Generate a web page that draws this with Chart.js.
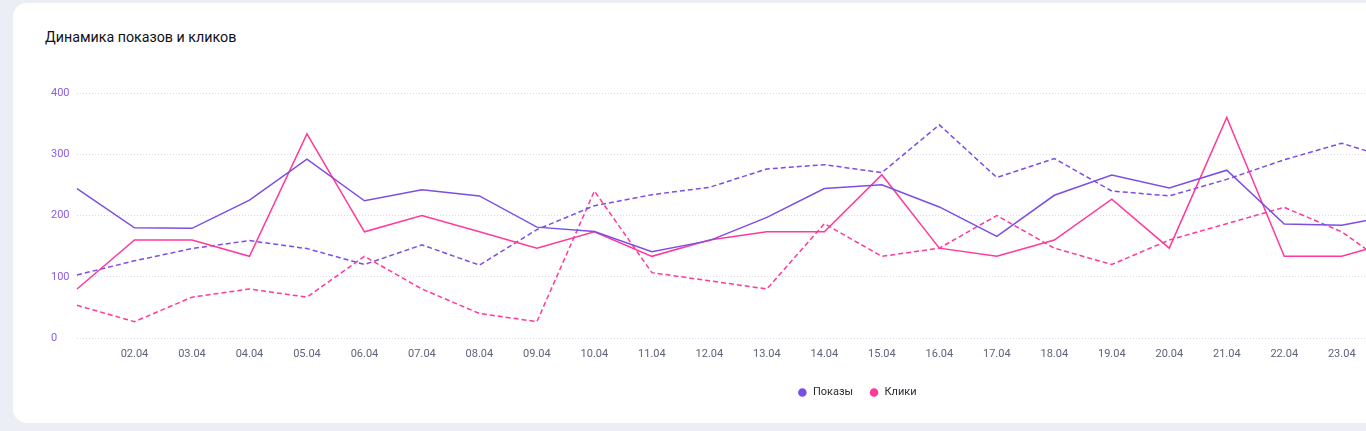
<!DOCTYPE html>
<html>
<head>
<meta charset="utf-8">
<script src="https://cdn.jsdelivr.net/npm/chart.js@4/dist/chart.umd.min.js"></script>
<style>
  html, body { margin: 0; padding: 0; background: #eceef6; width: 1366px; height: 431px; overflow: hidden; }
  .card { position: absolute; left: 13px; top: 3px; width: 1800px; height: 420px; background: #ffffff; border-radius: 14px; }
  .title { position: absolute; left: 45px; top: 29px; font-family: Roboto, "Open Sans", sans-serif; font-size: 14.25px; font-weight: 400; color: #111116; white-space: nowrap; }
  .wrap { position: absolute; left: 12px; top: 60px; width: 1641px; height: 348px; }
</style>
</head>
<body>
<div class="card"></div>
<div class="title">Динамика показов и кликов</div>
<div class="wrap"><canvas id="c"></canvas></div>
<script>
// Categories (dates). Only 01.04–24.04 carry data; later dates lie outside the visible window.
const dates = ['01.04','02.04','03.04','04.04','05.04','06.04','07.04','08.04','09.04','10.04',
               '11.04','12.04','13.04','14.04','15.04','16.04','17.04','18.04','19.04','20.04',
               '21.04','22.04','23.04','24.04','25.04','26.04','27.04','28.04'];
// Impressions, current period (solid purple)
const impressions     = [244,180,179,225,292,224,242,232,181,174,141,159,197,244,250,214,166,233,266,245,274,186,184,202,null,null,null,null];
// Impressions, previous period (dashed purple)
const impressionsPrev = [103,126,146,159,146,120,152,119,177,216,234,246,276,283,270,348,262,293,240,232,259,291,318,289,null,null,null,null];
// Clicks, current period (solid pink) — on hidden right axis 0..30
const clicks          = [6,12,12,10,25,13,15,13,11,13,10,12,13,13,20,11,10,12,17,11,27,10,10,12,null,null,null,null];
// Clicks, previous period (dashed pink)
const clicksPrev      = [4,2,5,6,5,10,6,3,2,18,8,7,6,14,10,11,15,11,9,12,14,16,13,8,null,null,null,null];
// Axis ticks
const yTicks = [0,100,200,300,400];
const clickAxisMax = 30;

const PURPLE = '#7c4ee6';
const PINK = '#ff3a9a';
const FONT = 'Roboto, "Open Sans", sans-serif';

// Nudge the legend so it sits centred on the card as in the reference
const legendShift = {
  id: 'legendShift',
  afterLayout(chart) {
    const lg = chart.legend;
    if (lg) { lg.left += 5; lg.right += 5; }
  }
};

new Chart(document.getElementById('c'), {
  type: 'line',
  data: {
    labels: dates,
    datasets: [
      { label: 'Показы', data: impressions, yAxisID: 'y', borderColor: PURPLE, backgroundColor: PURPLE, borderWidth: 1.5, pointRadius: 0, tension: 0 },
      { label: 'Клики', data: clicks, yAxisID: 'y1', borderColor: PINK, backgroundColor: PINK, borderWidth: 1.5, pointRadius: 0, tension: 0 },
      { label: 'Показы (пред.)', data: impressionsPrev, yAxisID: 'y', borderColor: PURPLE, backgroundColor: PURPLE, borderWidth: 1.5, borderDash: [5,3], pointRadius: 0, tension: 0 },
      { label: 'Клики (пред.)', data: clicksPrev, yAxisID: 'y1', borderColor: PINK, backgroundColor: PINK, borderWidth: 1.5, borderDash: [5,3], pointRadius: 0, tension: 0 }
    ]
  },
  plugins: [legendShift],
  options: {
    responsive: true,
    maintainAspectRatio: false,
    animation: false,
    layout: { padding: { top: 33, left: 39, right: 0, bottom: 0 } },
    plugins: {
      tooltip: { enabled: false },
      legend: {
        position: 'bottom',
        align: 'center',
        labels: {
          filter: (item) => item.datasetIndex < 2,
          usePointStyle: true,
          pointStyle: 'circle',
          boxWidth: 10,
          boxHeight: 5,
          padding: 16,
          color: '#2b2b33',
          font: { family: FONT, size: 11 }
        }
      }
    },
    scales: {
      x: {
        grid: { display: false, drawTicks: false },
        border: { display: false },
        ticks: {
          color: '#5b6478',
          font: { family: FONT, size: 11 },
          padding: 10,
          maxRotation: 0,
          autoSkip: false,
          callback: function(v, i) { return i === 0 ? '' : dates[i]; }
        },
        afterFit: (s) => { s.height = 33; }
      },
      y: {
        min: yTicks[0],
        max: yTicks[yTicks.length - 1],
        afterBuildTicks: (s) => { s.ticks = yTicks.map(v => ({ value: v })); },
        grid: { color: '#d9dae6', lineWidth: 1, drawTicks: false },
        border: { display: false, dash: [1,2] },
        ticks: { color: '#8a5ee8', font: { family: FONT, size: 11 }, padding: 9, crossAlign: 'far' },
        afterFit: (s) => { s.width = 26; }
      },
      y1: {
        display: false,
        min: 0,
        max: clickAxisMax
      }
    }
  }
});
</script>
</body>
</html>
